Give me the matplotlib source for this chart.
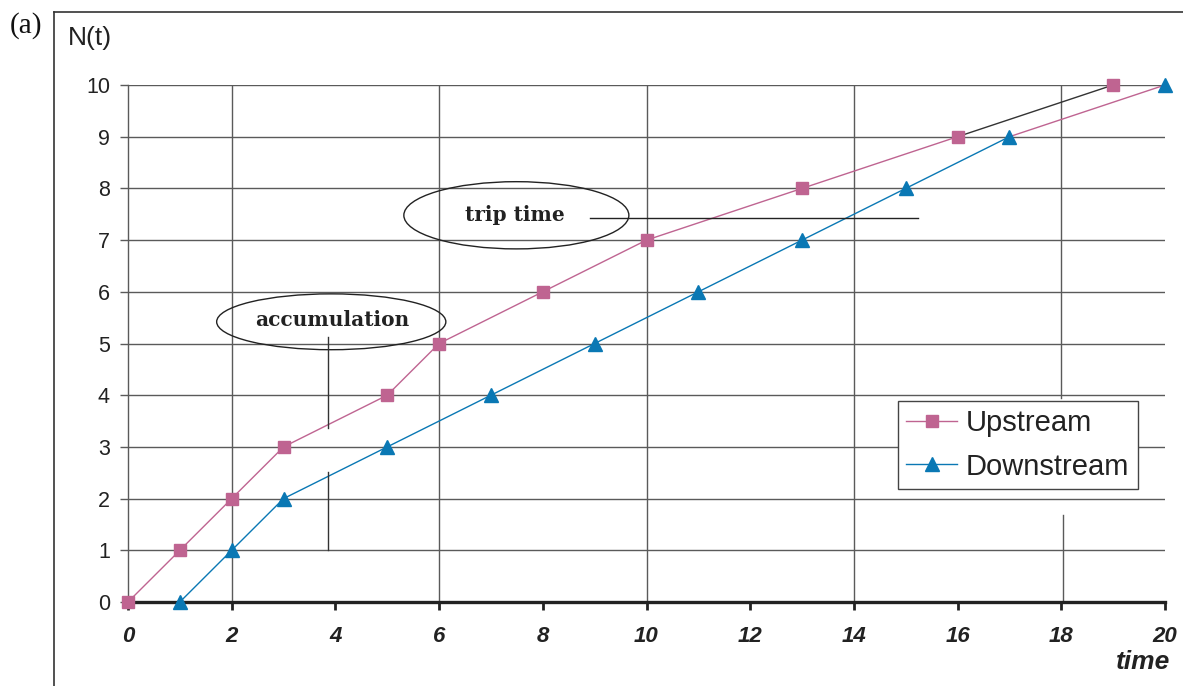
import matplotlib.pyplot as plt
from matplotlib.patches import Ellipse
from matplotlib.lines import Line2D

# cumulative counts N(t) at the upstream and downstream points
up_t = [0, 1, 2, 3, 5, 6, 8, 10, 13, 16, 19]
up_n = [0, 1, 2, 3, 4, 5, 6, 7, 8, 9, 10]
down_t = [1, 2, 3, 5, 7, 9, 11, 13, 15, 17, 20]
down_n = [0, 1, 2, 3, 4, 5, 6, 7, 8, 9, 10]

x_ticks = [0, 2, 4, 6, 8, 10, 12, 14, 16, 18, 20]
y_ticks = list(range(0, 11))
v_grid = [2, 6, 10, 14]

PINK = '#BF6491'
BLUE = '#0A78B4'
GRID = '#5a5a5a'

fig = plt.figure(figsize=(11.83, 6.86), dpi=100)
ax = fig.add_axes([128 / 1183, 1 - 602 / 686, (1165 - 128) / 1183, (602 - 85) / 686])
ax.set_xlim(0, 20)
ax.set_ylim(0, 10)

# grid
for y in y_ticks[1:]:
    ax.axhline(y, color=GRID, lw=1.0, zorder=1)
for x in v_grid:
    ax.axvline(x, color=GRID, lw=1.0, zorder=1)
# the x=18 line stops around the legend box
ax.plot([18, 18], [10, 3.95], color=GRID, lw=1.0, zorder=1)
ax.plot([18.03, 18.03], [1.68, 0], color=GRID, lw=1.0, zorder=1)

# series
ax.plot(up_t[:-1], up_n[:-1], color=PINK, lw=1.0, zorder=3)
ax.plot(up_t[-2:], up_n[-2:], color='#333333', lw=1.0, zorder=3)
ax.plot(down_t[:-1], down_n[:-1], color=BLUE, lw=1.0, zorder=3)
ax.plot(down_t[-2:], down_n[-2:], color=PINK, lw=1.0, zorder=3)
ax.plot(up_t, up_n, ls='none', marker='s', ms=8.5, color=PINK, zorder=4, clip_on=False)
ax.plot(down_t, down_n, ls='none', marker='^', ms=10, color=BLUE, zorder=4, clip_on=False)

# annotations
ax.add_patch(Ellipse((3.92, 5.42), 4.42, 1.08, fill=False, ec='#222222', lw=1.0, zorder=5))
ax.text(3.93, 5.45, 'accumulation', family='DejaVu Serif', fontsize=14.5, weight='bold',
        ha='center', va='center', color='#222222', zorder=6)
ax.plot([3.85, 3.85], [5.13, 3.37], color='#333333', lw=1.0, zorder=5)
ax.plot([3.85, 3.85], [2.51, 1.0], color='#333333', lw=1.0, zorder=5)

ax.add_patch(Ellipse((7.49, 7.48), 4.34, 1.30, fill=False, ec='#222222', lw=1.0, zorder=5))
ax.text(7.46, 7.48, 'trip time', family='DejaVu Serif', fontsize=14.5, weight='bold',
        ha='center', va='center', color='#222222', zorder=6)
ax.plot([8.91, 15.24], [7.43, 7.43], color='#222222', lw=1.0, zorder=5)

# axes styling
for side in ['top', 'right']:
    ax.spines[side].set_visible(False)
ax.spines['left'].set_color(GRID)
ax.spines['left'].set_linewidth(1.0)
ax.spines['bottom'].set_color('#222222')
ax.spines['bottom'].set_linewidth(2.4)
ax.spines['bottom'].set_zorder(2)

ax.set_yticks(y_ticks)
ax.set_yticklabels([str(v) for v in y_ticks], family='Liberation Sans', fontsize=15.5, color='#222222')
ax.tick_params(axis='y', length=6, width=1.0, color=GRID, pad=7)
ax.set_xticks(x_ticks)
ax.set_xticklabels([str(v) for v in x_ticks], family='Liberation Sans', fontsize=16,
                   weight='bold', style='italic', color='#222222')
ax.tick_params(axis='x', length=6, width=2.0, color='#222222', pad=11)

leg = ax.legend(['Upstream', 'Downstream'], loc='upper left',
                bbox_to_anchor=(898 / 1183, 1 - 401 / 686), bbox_transform=fig.transFigure,
                prop={'family': 'Liberation Sans', 'size': 21}, frameon=True, fancybox=False,
                handlelength=1.75, handletextpad=0.3, labelspacing=0.53, borderpad=0.28,
                borderaxespad=0, framealpha=1)
leg.get_frame().set_edgecolor('#444444')
leg.get_frame().set_linewidth(1.0)
handles = leg.legend_handles
handles[0].set_color(PINK)
handles[0].set_marker('s')
handles[0].set_markersize(8.5)
handles[1].set_color(BLUE)
handles[1].set_marker('^')
handles[1].set_markersize(10)
for t in leg.get_texts():
    t.set_color('#222222')
leg.set_zorder(7)

fig.text(90 / 1183, 1 - 38 / 686, 'N(t)', family='Liberation Sans', fontsize=19,
         ha='center', va='center', color='#222222')
fig.text(1143 / 1183, 1 - 662 / 686, 'time', family='Liberation Sans', fontsize=19,
         weight='bold', style='italic', ha='center', va='center', color='#222222')
fig.text(26 / 1183, 1 - 26 / 686, '(a)', family='Liberation Serif', fontsize=21,
         ha='center', va='center', color='#111111')

# outer frame
fig.add_artist(Line2D([54 / 1183, 54 / 1183], [0, 1 - 12 / 686], color='#333333', lw=1.2))
fig.add_artist(Line2D([54 / 1183, 1], [1 - 12 / 686, 1 - 12 / 686], color='#333333', lw=1.2))

fig.savefig('out.png', dpi=100)
